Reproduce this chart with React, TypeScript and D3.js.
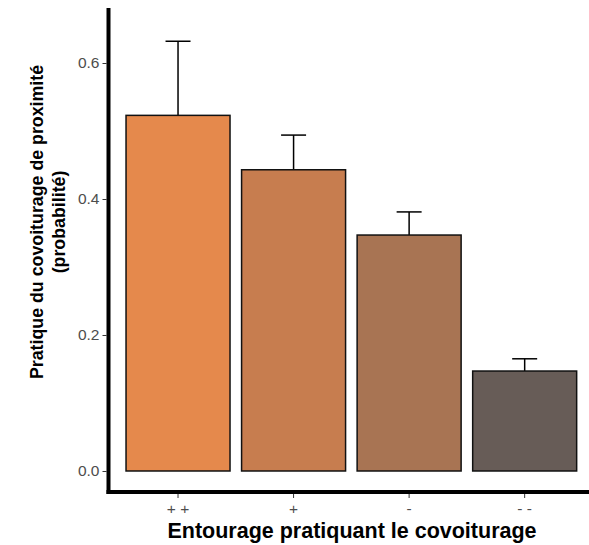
import { useEffect, useRef } from "react";
import * as d3 from "d3";

const categories = ["++", "+", "-", "--"];
const tickLabels = ["+ +", "+", "-", "- -"];
const values = [0.523, 0.443, 0.347, 0.147];
const upper = [0.632, 0.494, 0.381, 0.165];
const colors = ["#E5894C", "#C77D4F", "#A87453", "#675C57"];
const yTicks = [0, 0.2, 0.4, 0.6];

export default function App() {
  const svgRef = useRef(null);

  useEffect(() => {
    document.body.style.margin = "0";
    const svg = d3.select(svgRef.current);
    svg.selectAll("*").remove();

    const width = 589;
    const height = 545;
    const font = "Liberation Sans, Arial, sans-serif";

    const x = d3
      .scaleBand()
      .domain(categories)
      .range([108.7, 594])
      .paddingInner(0.1)
      .paddingOuter(0.15);

    const y = d3.scaleLinear().domain([-0.0309, 0.6809]).range([492, 8]);

    svg.attr("width", width).attr("height", height);

    const data = categories.map((c, i) => ({
      cat: c,
      value: values[i],
      up: upper[i],
      color: colors[i],
    }));

    // error bars (upper only)
    const err = svg.append("g");
    data.forEach((d) => {
      const cx = x(d.cat) + x.bandwidth() / 2;
      err
        .append("line")
        .attr("x1", cx)
        .attr("x2", cx)
        .attr("y1", y(d.value))
        .attr("y2", y(d.up))
        .attr("stroke", "#000")
        .attr("stroke-width", 1.5);
      err
        .append("line")
        .attr("x1", cx - 12.5)
        .attr("x2", cx + 12.5)
        .attr("y1", y(d.up))
        .attr("y2", y(d.up))
        .attr("stroke", "#000")
        .attr("stroke-width", 1.5);
    });

    svg
      .append("g")
      .selectAll("rect")
      .data(data)
      .enter()
      .append("rect")
      .attr("x", (d) => x(d.cat))
      .attr("width", x.bandwidth())
      .attr("y", (d) => y(d.value))
      .attr("height", (d) => y(0) - y(d.value))
      .attr("fill", (d) => d.color)
      .attr("stroke", "#111")
      .attr("stroke-width", 1.5);

    // y axis
    const yAxis = svg
      .append("g")
      .attr("transform", "translate(106.5,0)")
      .call(
        d3
          .axisLeft(y)
          .tickValues(yTicks)
          .tickFormat(d3.format(".1f"))
          .tickSize(4)
          .tickPadding(3)
      );
    yAxis.select(".domain").remove();
    yAxis.selectAll("line").attr("stroke", "#333").attr("stroke-width", 1);
    yAxis
      .selectAll("text")
      .attr("fill", "#4D4D4D")
      .attr("font-size", 15.5)
      .attr("font-family", font);

    // x axis
    const xAxis = svg
      .append("g")
      .attr("transform", "translate(0,494)")
      .call(
        d3
          .axisBottom(x)
          .tickFormat((d, i) => tickLabels[i])
          .tickSize(4)
          .tickPadding(5)
      );
    xAxis.select(".domain").remove();
    xAxis.selectAll("line").attr("stroke", "#333").attr("stroke-width", 1);
    xAxis
      .selectAll("text")
      .attr("fill", "#4D4D4D")
      .attr("font-size", 15.5)
      .attr("font-family", font);

    // thick axis lines
    svg
      .append("line")
      .attr("x1", 108.5)
      .attr("x2", 108.5)
      .attr("y1", 8)
      .attr("y2", 494)
      .attr("stroke", "#000")
      .attr("stroke-width", 4);
    svg
      .append("line")
      .attr("x1", 106.5)
      .attr("x2", width)
      .attr("y1", 492)
      .attr("y2", 492)
      .attr("stroke", "#000")
      .attr("stroke-width", 4);

    // axis titles
    svg
      .append("text")
      .attr("x", 352)
      .attr("y", 538)
      .attr("text-anchor", "middle")
      .attr("font-family", font)
      .attr("font-weight", "bold")
      .attr("font-size", 21.5)
      .attr("fill", "#000")
      .text("Entourage pratiquant le covoiturage");

    const yTitle = svg
      .append("text")
      .attr("transform", "translate(0,222) rotate(-90)")
      .attr("text-anchor", "middle")
      .attr("font-family", font)
      .attr("font-weight", "bold")
      .attr("font-size", 17.8)
      .attr("fill", "#000");
    yTitle.append("tspan").attr("x", 0).attr("y", 43).text("Pratique du covoiturage de proximité");
    yTitle.append("tspan").attr("x", 0).attr("y", 64.5).text("(probabilité)");
  }, []);

  return <svg ref={svgRef} style={{ display: "block" }}></svg>;
}
